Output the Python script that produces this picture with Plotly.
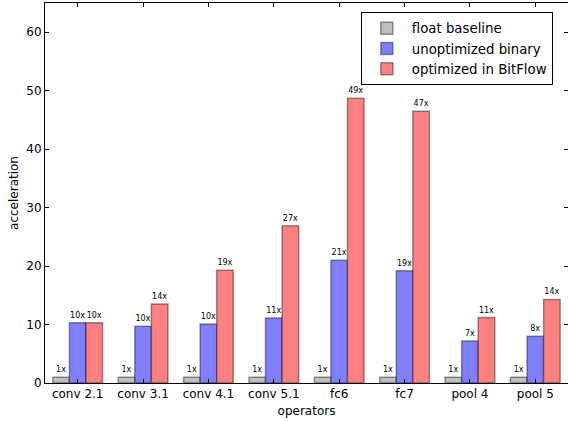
import plotly.graph_objects as go

operators = ["conv 2.1", "conv 3.1", "conv 4.1", "conv 5.1", "fc6", "fc7", "pool 4", "pool 5"]
float_baseline = [1, 1, 1, 1, 1, 1, 1, 1]
unoptimized_binary = [10.3, 9.7, 10.1, 11.1, 21.0, 19.2, 7.2, 8.0]
optimized_bitflow = [10.3, 13.5, 19.3, 26.9, 48.7, 46.5, 11.2, 14.3]
float_labels = ["1x"] * 8
unopt_labels = ["10x", "10x", "10x", "11x", "21x", "19x", "7x", "8x"]
opt_labels = ["10x", "14x", "19x", "27x", "49x", "47x", "11x", "14x"]

FONT = "DejaVu Sans"
edge = dict(color="rgba(0,0,0,0.4)", width=1.5)

fig = go.Figure()
for name, vals, labels, color in [
    ("float baseline", float_baseline, float_labels, "#bfbfbf"),
    ("unoptimized binary", unoptimized_binary, unopt_labels, "#8080ff"),
    ("optimized in BitFlow", optimized_bitflow, opt_labels, "#ff8080"),
]:
    fig.add_trace(go.Bar(
        x=operators, y=vals, name=name, text=labels,
        textposition="outside", cliponaxis=False,
        textfont=dict(size=8, color="black", family=FONT),
        marker=dict(color=color, line=edge),
    ))

axis_common = dict(
    showline=True, linecolor="black", linewidth=1, mirror="ticks",
    ticks="inside", ticklen=4, tickcolor="black", showgrid=False, zeroline=False,
    automargin=False,
    tickfont=dict(size=12, color="black", family=FONT),
)
fig.update_layout(
    width=568, height=421,
    margin=dict(l=45, r=0, t=3, b=38),
    plot_bgcolor="white", paper_bgcolor="white",
    barmode="group", bargap=0.24, bargroupgap=0,
    font=dict(family=FONT, color="black"),
    uniformtext=dict(minsize=8, mode="show"),
    xaxis=dict(axis_common, range=[-0.5, 7.5],
               title=dict(text="operators", font=dict(size=12), standoff=6)),
    yaxis=dict(axis_common, range=[0, 65], tickvals=[0, 10, 20, 30, 40, 50, 60],
               title=dict(text="acceleration", font=dict(size=12), standoff=5)),
    legend=dict(x=0.971, y=0.976, xanchor="right", yanchor="top",
                bordercolor="black", borderwidth=1, bgcolor="white",
                font=dict(size=13.3, family=FONT), tracegroupgap=0,
                itemwidth=40),
)
fig.write_html("out.html", config={"displayModeBar": False},
               post_script="document.body.style.margin='0';document.body.style.overflow='hidden';")
